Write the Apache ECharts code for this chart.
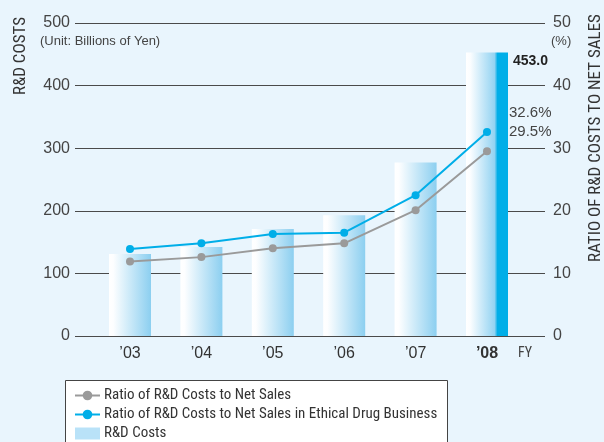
<!DOCTYPE html>
<html>
<head>
<meta charset="utf-8">
<script src="https://cdn.jsdelivr.net/npm/echarts@6/dist/echarts.min.js"></script>
<style>
  html, body { margin: 0; padding: 0; background: #e9f5fd; }
  #chart { width: 604px; height: 442px; }
</style>
</head>
<body>
<div id="chart"></div>
<script>
// Fiscal years and values
const years = ['\u201903', '\u201904', '\u201905', '\u201906', '\u201907', '\u201908'];
const rdCosts = [131, 142, 171, 193, 277, 453.0];            // billions of yen
const ratioNetSales = [11.9, 12.6, 14.0, 14.8, 20.1, 29.5];  // %
const ratioEthical = [13.9, 14.8, 16.3, 16.5, 22.5, 32.6];   // %
const leftTicks = [0, 100, 200, 300, 400, 500];
const rightTicks = [0, 10, 20, 30, 40, 50];

const NARROW = '"Liberation Sans Narrow", "Roboto Condensed", "Liberation Sans", sans-serif';
const SANS = '"Liberation Sans", Arial, sans-serif';
const CYAN = '#00aee8';
const GRAY = '#9a9a9a';

const lastIdx = years.length - 1;

const barFill = {
  type: 'linear', x: 0, y: 0, x2: 1, y2: 0,
  colorStops: [
    { offset: 0, color: '#ffffff' },
    { offset: 0.1, color: '#fdfeff' },
    { offset: 1, color: '#8ccff0' }
  ]
};
const barFillLatest = {
  type: 'linear', x: 0, y: 0, x2: 1, y2: 0,
  colorStops: [
    { offset: 0, color: '#ffffff' },
    { offset: 0.1, color: '#fbfdff' },
    { offset: 0.68, color: '#93d3f2' },
    { offset: 0.75, color: CYAN },
    { offset: 1, color: CYAN }
  ]
};

const barData = rdCosts.map((v, i) => i === lastIdx ? {
  value: v,
  itemStyle: { color: barFillLatest },
  label: {
    show: true, position: [47, 9], align: 'left', verticalAlign: 'middle',
    formatter: (p) => p.value.toFixed(1),
    fontFamily: SANS, fontSize: 14, fontWeight: 'bold', color: '#222'
  }
} : { value: v, itemStyle: { color: barFill } });

function lineData(arr) {
  return arr.map((v, i) => i === lastIdx ? {
    value: v,
    label: {
      show: true, position: 'right', distance: 18, offset: [0, -19],
      formatter: (p) => p.value.toFixed(1) + '%',
      fontFamily: SANS, fontSize: 15, color: '#444'
    }
  } : v);
}

const chart = echarts.init(document.getElementById('chart'), null, { renderer: 'canvas' });

chart.setOption({
  backgroundColor: '#e9f5fd',
  animation: false,
  grid: [
    // frame grid: gridlines and both value scales
    { left: 75, right: 59, top: 23, bottom: 106 },
    // data grid: categories, bars and lines
    { left: 94.3, width: 428.4, top: 23, bottom: 106 }
  ],
  xAxis: [
    { gridIndex: 0, type: 'value', min: 0, max: 1, show: false },
    {
      gridIndex: 1, type: 'category', data: years,
      axisLine: { show: false }, axisTick: { show: false },
      axisLabel: {
        margin: 10, fontFamily: SANS, fontSize: 16, color: '#333',
        formatter: (v, i) => i === lastIdx ? '{b|' + v + '}' : v,
        rich: { b: { fontFamily: SANS, fontSize: 16, fontWeight: 'bold', color: '#333' } }
      }
    }
  ],
  yAxis: [
    {
      gridIndex: 0, type: 'value', min: 0, max: 500, interval: 100, position: 'left',
      axisLine: { show: false }, axisTick: { show: false },
      axisLabel: { margin: 5, fontFamily: SANS, fontSize: 16, color: '#444',
        formatter: (v) => leftTicks.includes(v) ? String(v) : '' },
      splitLine: { show: true, lineStyle: { color: '#4a4a4a', width: 1 } }
    },
    {
      gridIndex: 0, type: 'value', min: 0, max: 50, interval: 10, position: 'right',
      axisLine: { show: false }, axisTick: { show: false },
      axisLabel: { margin: 8, fontFamily: SANS, fontSize: 16, color: '#444',
        formatter: (v) => rightTicks.includes(v) ? String(v) : '' },
      splitLine: { show: false }
    },
    { gridIndex: 1, type: 'value', min: 0, max: 500, show: false },
    { gridIndex: 1, type: 'value', min: 0, max: 50, show: false }
  ],
  legend: {
    orient: 'vertical', left: 74, top: 388, height: 120, padding: 0,
    itemWidth: 25, itemHeight: 12, itemGap: 4,
    textStyle: { fontFamily: NARROW, fontSize: 15, color: '#333', padding: [0, 0, 0, -1] },
    data: [
      { name: 'Ratio of R&D Costs to Net Sales' },
      { name: 'Ratio of R&D Costs to Net Sales in Ethical Drug Business' },
      { name: 'R&D Costs', icon: 'rect', itemStyle: { color: '#b9e2f8' } }
    ]
  },
  graphic: [
    {
      type: 'rect', left: 65, top: 380, z: -1,
      shape: { width: 382, height: 80 },
      style: { fill: '#ffffff', stroke: '#444', lineWidth: 1 }
    },
    {
      type: 'text', x: 21, y: 56, rotation: Math.PI / 2,
      style: { text: 'R&D COSTS', fontFamily: NARROW, fontSize: 17, fill: '#333',
        textAlign: 'center', textVerticalAlign: 'middle' }
    },
    {
      type: 'text', x: 596, y: 138, rotation: Math.PI / 2,
      style: { text: 'RATIO OF R&D COSTS TO NET SALES', fontFamily: NARROW, fontSize: 17, fill: '#333',
        textAlign: 'center', textVerticalAlign: 'middle' }
    },
    {
      type: 'text', x: 40, y: 41,
      style: { text: '(Unit: Billions of Yen)', fontFamily: SANS, fontSize: 13, fill: '#444',
        textAlign: 'left', textVerticalAlign: 'middle' }
    },
    {
      type: 'text', x: 551, y: 41,
      style: { text: '(%)', fontFamily: SANS, fontSize: 13, fill: '#444',
        textAlign: 'left', textVerticalAlign: 'middle' }
    },
    {
      type: 'text', x: 518, y: 353,
      style: { text: 'FY', fontFamily: NARROW, fontSize: 14, fill: '#444',
        textAlign: 'left', textVerticalAlign: 'middle' }
    }
  ],
  series: [
    {
      name: 'R&D Costs', type: 'bar', xAxisIndex: 1, yAxisIndex: 2,
      barWidth: 42, data: barData, z: 2
    },
    {
      name: 'Ratio of R&D Costs to Net Sales', type: 'line', xAxisIndex: 1, yAxisIndex: 3,
      data: lineData(ratioNetSales), symbol: 'circle', symbolSize: 8,
      lineStyle: { color: GRAY, width: 2 }, itemStyle: { color: GRAY }, z: 3
    },
    {
      name: 'Ratio of R&D Costs to Net Sales in Ethical Drug Business', type: 'line', xAxisIndex: 1, yAxisIndex: 3,
      data: lineData(ratioEthical), symbol: 'circle', symbolSize: 8,
      lineStyle: { color: CYAN, width: 2 }, itemStyle: { color: CYAN }, z: 4
    }
  ]
});
</script>
</body>
</html>
